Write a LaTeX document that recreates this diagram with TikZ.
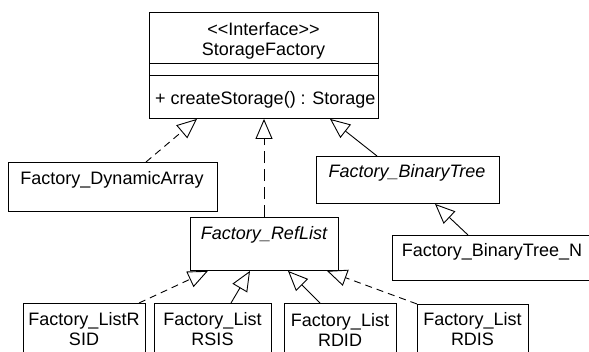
\documentclass[tikz,border=0pt]{standalone}
\usepackage{fontspec}
\setmainfont{Liberation Sans}
\usetikzlibrary{arrows.meta, calc}

\tikzset{
  box/.style={draw, line width=0.9pt, inner sep=0pt, anchor=north west},
  txt/.style={inner sep=0pt, font=\fontsize{18}{20}\selectfont, align=center},
  inherit/.style={line width=0.9pt, -{Triangle[open, length=20pt, width=17pt, line width=0.9pt]}},
  realize/.style={inherit, dash pattern=on 7pt off 5pt},
}

\begin{document}
\begin{tikzpicture}[x=1pt, y=-1pt]
    \useasboundingbox (0,0) rectangle (589,351);
    \clip (0,0) rectangle (589,351);

    % Interface
    \node[box, minimum width=229pt, minimum height=106pt] (sf) at (149,12) {};
    \node[txt] (sfst) at (263.5,29) {<{}<Interface>{}>};
    \node[txt] (sfname) at (263.5,51) {StorageFactory};
    \draw[line width=0.9pt] (sf.west |- 0,63) -- (sf.east |- 0,63);
    \draw[line width=0.9pt] (sf.west |- 0,75) -- (sf.east |- 0,75);
    \node[txt, anchor=west] (sfop) at (155,100) {+ createStorage() : Storage};

    % Factories
    \node[box, minimum width=209pt, minimum height=49pt] (da) at (8,162) {};
    \node[txt] (daname) at (112,180) {Factory\_DynamicArray};
    \node[box, minimum width=148pt, minimum height=53pt] (rl) at (190,217) {};
    \node[txt] (rlname) at (264,235) {\itshape Factory\_RefList};
    \node[box, minimum width=183pt, minimum height=47pt] (bt) at (316,156) {};
    \node[txt] (btname) at (407,173) {\itshape Factory\_BinaryTree};
    \node[box, minimum width=200pt, minimum height=45pt] (btn) at (392,235) {};
    \node[txt] (btnname) at (492,252) {Factory\_BinaryTree\_N};

    % Lists
    \node[box, minimum width=122pt, minimum height=60pt] (rsid) at (23,303) {};
    \node[txt] (rsidname) at (84,329.5) {Factory\_ListR\\SID};
    \node[box, minimum width=117pt, minimum height=60pt] (rsis) at (154,303) {};
    \node[txt] (rsisname) at (212.5,329.5) {Factory\_List\\RSIS};
    \node[box, minimum width=112pt, minimum height=60pt] (rdid) at (284,303) {};
    \node[txt] (rdidname) at (340,329.5) {Factory\_List\\RDID};
    \node[box, minimum width=111pt, minimum height=60pt] (rdis) at (417,304) {};
    \node[txt] (rdisname) at (472.5,329.5) {Factory\_List\\RDIS};

    % Generalizations
    \draw[realize] ($(da.north west)+(138,0)$) -- ($(sf.south west)+(48,0)$);
    \draw[inherit, dash pattern=on 12pt off 6pt] ($(rl.north west)+(74,0)$) -- ($(sf.south west)+(115,0)$);
    \draw[inherit] ($(bt.north west)+(61,0)$) -- ($(sf.south west)+(181,0)$);
    \draw[inherit] ($(btn.north west)+(76,0)$) -- ($(bt.south west)+(119,0)$);
    \draw[realize] ($(rsid.north west)+(116,0)$) -- ($(rl.south west)+(18,0)$);
    \draw[inherit] ($(rsis.north west)+(77,0)$) -- ($(rl.south west)+(60,0)$);
    \draw[inherit] ($(rdid.north west)+(36,0)$) -- ($(rl.south west)+(98,0)$);
    \draw[realize] (rdis.north west) -- ($(rl.south west)+(137,0)$);
\end{tikzpicture}
\end{document}
